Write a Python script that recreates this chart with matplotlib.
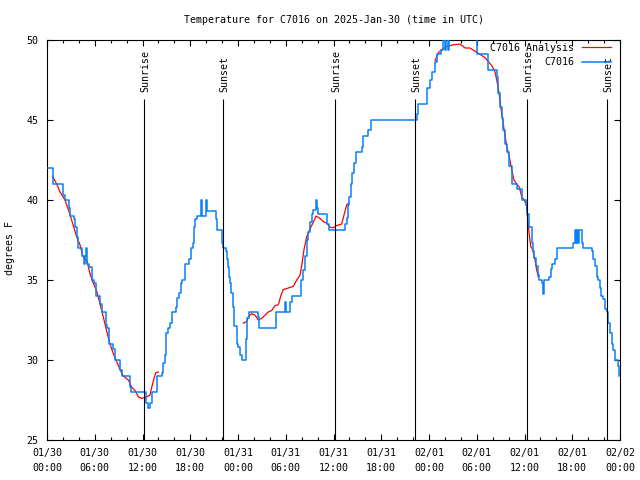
import numpy as np
import matplotlib
matplotlib.use("Agg")
import matplotlib.pyplot as plt

# ---------------- data (hours after 2025-01-30 00:00 UTC) ----------------
obs_hours = [0.13, 0.79, 1.97, 2.26, 2.80, 2.89, 3.43, 3.52, 3.73, 3.93, 4.40, 4.69, 4.81, 4.94,
             5.03, 5.28, 5.62, 5.94, 6.16, 6.66, 6.87, 7.38, 7.50, 7.83, 8.26, 8.54, 9.17, 9.39,
             10.43, 10.56, 12.44, 12.65, 12.94, 13.16, 13.86, 14.41, 14.61, 14.83, 14.95, 15.17,
             15.46, 15.67, 16.17, 16.30, 16.62, 16.80, 17.00, 17.34, 17.88, 18.06, 18.31, 18.47,
             18.60, 18.81, 19.35, 19.48, 19.98, 20.14, 21.20, 21.40, 21.95, 22.15, 22.49, 22.58,
             22.78, 22.91, 23.00, 23.08, 23.33, 23.50, 23.84, 24.04, 24.25, 24.47, 24.97, 25.17,
             25.42, 26.48, 26.68, 28.78, 29.91, 30.03, 30.54, 30.75, 31.88, 32.13, 32.42, 32.63,
             32.83, 33.05, 33.26, 33.46, 33.80, 33.97, 34.09, 35.22, 35.47, 37.45, 37.66, 37.86,
             37.95, 38.16, 38.36, 38.58, 38.79, 39.55, 39.67, 40.38, 40.68, 46.53, 46.66, 47.79,
             48.13, 48.38, 48.76, 49.05, 49.51, 49.76, 49.95, 50.14, 50.33, 50.52, 54.00, 55.45,
             56.51, 56.71, 56.92, 57.14, 57.34, 57.55, 57.84, 58.09, 58.39, 59.10, 59.69, 60.19,
             60.35, 60.61, 60.91, 61.11, 61.24, 61.45, 61.66, 61.86, 62.16, 62.29, 62.42, 63.12,
             63.29, 63.42, 63.84, 64.05, 66.14, 66.35, 66.47, 66.60, 66.73, 66.85, 67.19, 67.32,
             68.45, 68.65, 68.86, 69.08, 69.28, 69.49, 69.62, 69.83, 70.12, 70.33, 70.53, 70.75,
             70.96, 71.16, 71.38, 71.79, 71.91, 72.00]
obs_temp = [42.0, 41.0, 40.3, 40.0, 39.5, 39.0, 38.8, 38.3, 37.7, 37.0, 36.5, 36.0, 36.5, 37.0,
            36.0, 35.8, 35.0, 34.8, 34.0, 33.5, 33.0, 32.2, 32.0, 31.0, 30.7, 30.0, 29.4, 29.0,
            28.3, 28.0, 27.3, 27.0, 27.3, 28.0, 29.0, 29.2, 29.8, 30.3, 31.7, 32.0,
            32.3, 33.0, 33.3, 33.9, 34.2, 34.8, 35.0, 36.0, 36.3, 37.0, 37.3, 38.3,
            38.8, 39.0, 40.0, 39.0, 40.0, 39.3, 38.8, 38.1, 37.3, 37.0, 36.8, 36.3,
            35.8, 35.2, 34.8, 34.2, 33.3, 32.1, 31.0, 30.8, 30.3, 30.0, 31.3, 32.6,
            33.0, 32.7, 32.0, 33.0, 33.6, 33.0, 33.6, 34.0, 35.0, 35.6, 36.5, 37.5,
            38.0, 38.6, 39.1, 39.4, 40.0, 39.5, 39.1, 38.5, 38.1, 38.5, 38.9, 39.7,
            40.2, 41.0, 41.7, 42.3, 43.0, 43.3, 44.0, 44.4, 45.0, 45.4, 46.0, 47.0,
            47.5, 48.0, 48.6, 49.1, 49.4, 51.0, 49.4, 51.0, 49.4, 51.0, 49.1, 48.1,
            47.7, 46.7, 45.8, 45.1, 44.4, 43.5, 43.0, 42.1, 41.0, 40.7, 40.0, 39.7,
            39.1, 38.3, 37.3, 36.8, 36.4, 35.9, 35.3, 35.0, 34.8, 34.1, 35.0, 35.2,
            35.7, 36.0, 36.3, 37.0, 37.3, 38.1, 37.3, 38.1, 37.3, 38.1, 37.3, 37.0,
            36.8, 36.3, 35.9, 35.2, 35.0, 34.5, 34.0, 33.8, 33.2, 33.0, 32.3, 31.7,
            31.0, 30.6, 30.0, 29.6, 29.0, 29.0]

ana1_hours = [0.67, 1.22, 1.63, 2.26, 2.89, 3.30, 3.73, 4.15, 4.49, 4.99, 5.40, 5.74, 6.25, 6.66,
              7.07, 7.50, 7.92, 8.33, 8.76, 9.17, 9.59, 10.22, 10.64, 11.06, 11.47, 11.90, 12.53,
              12.94, 13.16, 13.45, 13.66, 13.99]
ana1_temp = [41.5, 41.0, 40.5, 40.0, 39.1, 38.4, 37.7, 37.2, 36.5, 36.25, 35.4, 34.9, 34.3, 33.5,
             32.7, 31.8, 31.0, 30.4, 29.9, 29.4, 29.0, 28.75, 28.3, 28.1, 27.7, 27.6, 27.7,
             27.8, 28.3, 28.85, 29.2, 29.25]
ana2_hours = [24.67, 25.09, 25.30, 25.72, 26.14, 26.55, 26.98, 27.39, 27.81, 28.24, 28.65, 29.07,
              29.37, 29.69, 30.32, 30.95, 31.38, 31.79, 32.01, 32.29, 32.63, 33.05, 33.46, 33.80,
              34.31, 34.72, 35.15, 35.56, 35.98, 36.40, 37.03, 37.32, 37.66, 37.95]
ana2_temp = [32.3, 32.4, 32.7, 32.9, 32.8, 32.5, 32.6, 32.8, 33.0, 33.1, 33.4, 33.45,
             34.0, 34.4, 34.5, 34.6, 35.0, 35.3, 35.9, 36.9, 37.7, 38.2, 38.6, 39.0,
             38.85, 38.65, 38.55, 38.3, 38.27, 38.4, 38.5, 39.06, 39.7, 39.8]
ana3_hours = [48.76, 49.17, 49.60, 50.23, 51.06, 51.90, 52.53, 53.15, 53.78, 54.41, 55.04, 55.45,
              55.88, 56.30, 56.51, 56.80, 57.01, 57.26, 57.55, 57.84, 58.09, 58.39, 58.68, 59.02,
              59.35, 59.65, 59.98, 60.28, 60.40, 60.61, 60.78, 61.03, 61.32, 61.54, 61.74]
ana3_temp = [48.7, 49.2, 49.4, 49.6, 49.7, 49.75, 49.5, 49.5, 49.3, 49.1, 48.9, 48.65,
             48.4, 48.0, 47.5, 46.7, 45.8, 45.0, 44.0, 43.2, 42.7, 41.9, 41.25, 41.0,
             40.8, 40.2, 40.0, 39.6, 38.75, 37.8, 37.1, 36.9, 36.25, 35.6, 35.2]

sun_hours = [12.2, 22.12, 36.19, 46.24, 60.32, 70.37]
sun_labels = ["Sunrise", "Sunset", "Sunrise", "Sunset", "Sunrise", "Sunset"]

x_tick_hours = list(range(0, 73, 6))
x_tick_labels = ["01/30\n00:00", "01/30\n06:00", "01/30\n12:00", "01/30\n18:00",
                 "01/31\n00:00", "01/31\n06:00", "01/31\n12:00", "01/31\n18:00",
                 "02/01\n00:00", "02/01\n06:00", "02/01\n12:00", "02/01\n18:00",
                 "02/02\n00:00"]
y_ticks = [25, 30, 35, 40, 45, 50]

title = "Temperature for C7016 on 2025-Jan-30 (time in UTC)"
ylabel = "degrees F"

# ---------------- plotting ----------------
plt.rcParams['font.family'] = ['DejaVu Sans Mono']
FS = 7.2

fig = plt.figure(figsize=(6.4, 4.8), dpi=100)
ax = fig.add_axes([47/640, 1-440/480, 573/640, 400/480])

red = '#ff0000'
blue = '#0a80f5'

first = True
for hh, tt in [(ana1_hours, ana1_temp), (ana2_hours, ana2_temp), (ana3_hours, ana3_temp)]:
    ax.plot(hh, tt, color=red, lw=0.9, label="C7016 Analysis" if first else None, zorder=2)
    first = False
ax.plot(obs_hours, obs_temp, color=blue, lw=1.1, drawstyle='steps-post', label="C7016", zorder=3)

ax.vlines(sun_hours, 25, 46.3, color='black', lw=0.8, zorder=4)
for h, lab in zip(sun_hours, sun_labels):
    ax.text(h + 0.12, 46.75, lab, rotation=90, ha='center', va='bottom', fontsize=FS, zorder=5)

ax.set_xlim(0, 72)
ax.set_ylim(25, 50)
ax.set_xticks(x_tick_hours)
ax.set_xticklabels(x_tick_labels, fontsize=FS)
ax.set_xticks(np.arange(0, 73, 2), minor=True)
ax.set_yticks(y_ticks)
ax.set_yticklabels([str(v) for v in y_ticks], fontsize=FS)
for lbl in ax.get_xticklabels():
    lbl.set_linespacing(1.55)

ax.tick_params(axis='both', which='both', direction='in', top=True, right=True, width=0.8)
ax.tick_params(axis='both', which='major', length=4.2)
ax.tick_params(axis='x', which='minor', length=2.3)
ax.tick_params(axis='x', which='major', pad=6)
ax.tick_params(axis='y', which='major', pad=6)
for s in ax.spines.values():
    s.set_linewidth(0.8)

ax.set_ylabel(ylabel, fontsize=FS)
ax.yaxis.set_label_coords(-0.0567, 0.481)

fig.text((47 + 620) / 2 / 640, 1 - 20 / 480, title, ha='center', va='center', fontsize=FS)

leg = ax.legend(loc='upper right', bbox_to_anchor=((611 - 47) / 573, (440 - 43) / 400),
                markerfirst=False, frameon=False, fontsize=FS, handlelength=2.9,
                handletextpad=0.8, labelspacing=0.45, borderpad=0, borderaxespad=0)

fig.savefig("out.png", dpi=100)
